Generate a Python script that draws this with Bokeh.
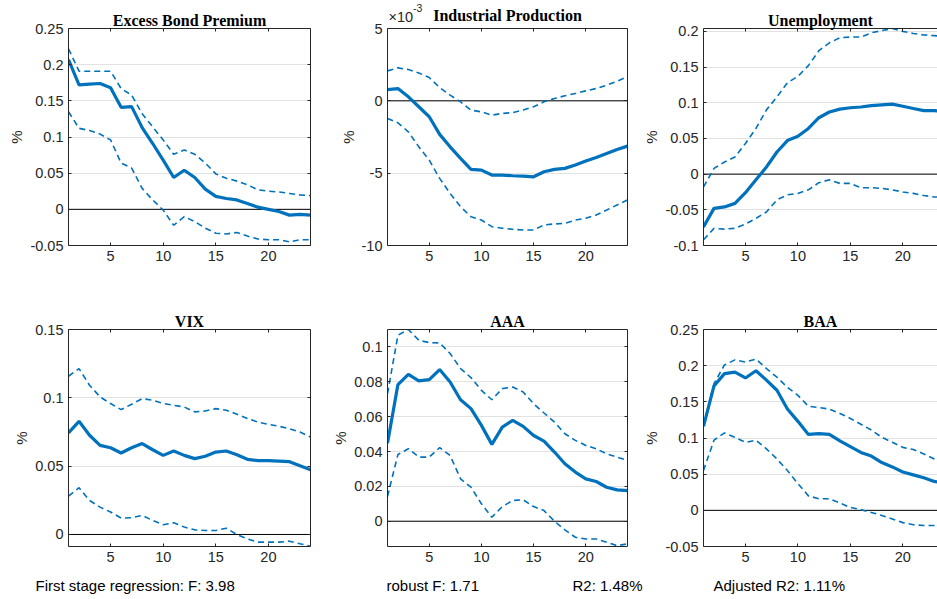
import numpy as np
from bokeh.plotting import figure
from bokeh.layouts import column, row
from bokeh.models import (Span, Label, LinearAxis, FixedTicker,
                          CustomJSTickFormatter, Range1d)
from bokeh.embed import file_html
from bokeh.resources import INLINE

# ---------------- data ----------------
horizon = list(range(1, 25))

ebp_irf = [0.207, 0.172, 0.173, 0.174, 0.168, 0.141, 0.142, 0.113, 0.091, 0.068, 0.044, 0.054,
           0.044, 0.028, 0.018, 0.015, 0.013, 0.008, 0.003, 0.000, -0.003, -0.008, -0.007, -0.008]
ebp_up = [0.222, 0.191, 0.191, 0.191, 0.191, 0.167, 0.158, 0.132, 0.114, 0.096, 0.076, 0.082,
          0.076, 0.064, 0.049, 0.043, 0.039, 0.034, 0.027, 0.025, 0.024, 0.022, 0.020, 0.019]
ebp_lo = [0.135, 0.112, 0.109, 0.104, 0.096, 0.064, 0.057, 0.029, 0.013, -0.001, -0.022, -0.010,
          -0.017, -0.026, -0.033, -0.034, -0.032, -0.037, -0.041, -0.042, -0.042, -0.045, -0.042, -0.042]

# industrial production, in units of 1e-3
ip_irf_e3 = [0.78, 0.85, 0.28, -0.41, -1.10, -2.32, -3.18, -3.98, -4.74, -4.79, -5.13, -5.13,
             -5.18, -5.20, -5.25, -4.90, -4.74, -4.67, -4.44, -4.16, -3.91, -3.64, -3.36, -3.13]
ip_up_e3 = [2.07, 2.28, 2.16, 1.93, 1.61, 0.92, 0.39, -0.07, -0.64, -0.76, -0.99, -0.87,
            -0.81, -0.64, -0.41, -0.07, 0.16, 0.35, 0.51, 0.69, 0.85, 1.08, 1.36, 1.66]
ip_lo_e3 = [-1.22, -1.52, -2.14, -3.18, -4.10, -5.36, -6.40, -7.32, -8.01, -8.24, -8.70, -8.81,
            -8.88, -8.93, -8.93, -8.58, -8.51, -8.47, -8.24, -8.12, -7.89, -7.55, -7.20, -6.86]

un_irf = [-0.074, -0.048, -0.046, -0.041, -0.026, -0.008, 0.010, 0.031, 0.047, 0.053, 0.064, 0.079,
          0.087, 0.091, 0.093, 0.094, 0.096, 0.097, 0.098, 0.095, 0.092, 0.089, 0.089, 0.087]
un_up = [-0.018, 0.008, 0.017, 0.024, 0.043, 0.064, 0.090, 0.108, 0.128, 0.137, 0.152, 0.173,
         0.184, 0.191, 0.192, 0.192, 0.198, 0.201, 0.204, 0.200, 0.197, 0.195, 0.194, 0.193]
un_lo = [-0.092, -0.076, -0.077, -0.076, -0.070, -0.062, -0.053, -0.036, -0.029, -0.027, -0.022, -0.012,
         -0.008, -0.013, -0.013, -0.019, -0.019, -0.020, -0.022, -0.025, -0.027, -0.030, -0.032, -0.032]

vix_irf = [0.0743, 0.0828, 0.0726, 0.0652, 0.0635, 0.0596, 0.0635, 0.0665, 0.0620, 0.0579, 0.0611, 0.0579,
           0.0555, 0.0572, 0.0603, 0.0611, 0.0584, 0.0550, 0.0540, 0.0540, 0.0537, 0.0533, 0.0503, 0.0474]
vix_up = [0.1158, 0.1214, 0.1092, 0.1007, 0.0958, 0.0914, 0.0953, 0.0994, 0.0982, 0.0958, 0.0945, 0.0933,
          0.0897, 0.0904, 0.0921, 0.0909, 0.0880, 0.0848, 0.0823, 0.0806, 0.0792, 0.0774, 0.0750, 0.0713]
vix_lo = [0.0281, 0.0342, 0.0249, 0.0200, 0.0164, 0.0120, 0.0122, 0.0139, 0.0103, 0.0071, 0.0086, 0.0054,
          0.0034, 0.0029, 0.0029, 0.0046, 0.0000, -0.0032, -0.0056, -0.0056, -0.0056, -0.0049, -0.0068, -0.0086]

aaa_irf = [0.0448, 0.0784, 0.0843, 0.0805, 0.0812, 0.0870, 0.0799, 0.0697, 0.0646, 0.0550, 0.0441, 0.0540,
           0.0579, 0.0544, 0.0492, 0.0460, 0.0397, 0.0330, 0.0282, 0.0243, 0.0228, 0.0195, 0.0180, 0.0176]
aaa_up = [0.0732, 0.1067, 0.1100, 0.1038, 0.1025, 0.1023, 0.0962, 0.0876, 0.0824, 0.0751, 0.0697, 0.0761,
          0.0770, 0.0741, 0.0674, 0.0621, 0.0569, 0.0502, 0.0464, 0.0435, 0.0416, 0.0387, 0.0368, 0.0349]
aaa_lo = [0.0142, 0.0383, 0.0416, 0.0368, 0.0368, 0.0422, 0.0377, 0.0243, 0.0195, 0.0100, 0.0023, 0.0084,
          0.0119, 0.0123, 0.0084, 0.0061, 0.0000, -0.0050, -0.0092, -0.0102, -0.0102, -0.0121, -0.0140, -0.0130]

baa_irf = [0.116, 0.172, 0.189, 0.191, 0.183, 0.193, 0.180, 0.166, 0.140, 0.123, 0.105, 0.106,
           0.105, 0.096, 0.088, 0.080, 0.075, 0.066, 0.060, 0.053, 0.049, 0.045, 0.040, 0.037]
baa_up = [0.118, 0.175, 0.201, 0.208, 0.205, 0.209, 0.196, 0.184, 0.170, 0.159, 0.144, 0.142,
          0.140, 0.134, 0.127, 0.119, 0.111, 0.101, 0.094, 0.087, 0.084, 0.078, 0.071, 0.064]
baa_lo = [0.055, 0.097, 0.107, 0.101, 0.094, 0.097, 0.085, 0.071, 0.055, 0.037, 0.020, 0.016,
          0.016, 0.010, 0.004, 0.001, -0.003, -0.007, -0.012, -0.017, -0.020, -0.021, -0.021, -0.021]

titles = ["Excess Bond Premium", "Industrial Production", "Unemployment", "VIX", "AAA", "BAA"]
x_ticks = [5, 10, 15, 20]
y_ticks = [
    [-0.05, 0, 0.05, 0.1, 0.15, 0.2, 0.25],
    [-10, -5, 0, 5],
    [-0.1, -0.05, 0, 0.05, 0.1, 0.15, 0.2],
    [0, 0.05, 0.1, 0.15],
    [0, 0.02, 0.04, 0.06, 0.08, 0.1],
    [-0.05, 0, 0.05, 0.1, 0.15, 0.2, 0.25],
]
y_ranges = [(-0.05, 0.25), (-10, 5), (-0.1, 0.204), (-0.0088, 0.15), (-0.0145, 0.110), (-0.05, 0.25)]
ip_exponent = ("×10", "-3")
stats_text = ["First stage regression: F: 3.98", "robust F: 1.71", "R2: 1.48%", "Adjusted R2: 1.11%"]

series = [(ebp_irf, ebp_up, ebp_lo), (ip_irf_e3, ip_up_e3, ip_lo_e3), (un_irf, un_up, un_lo),
          (vix_irf, vix_up, vix_lo), (aaa_irf, aaa_up, aaa_lo), (baa_irf, baa_up, baa_lo)]

# ---------------- style / geometry ----------------
BLUE = "#0072BD"
AX = "#262626"
GRID = "#e2e2e2"
SANS = "Liberation Sans"
SERIF = "Liberation Serif"
W = 937
IP_STRIP = 22       # strip above the industrial production panel (title + exponent)
BOTTOM_STRIP = 27
TEXT_SHIFT = 5      # label baseline correction observed in the renderer

# per column: border_left, frame_width, border_right, x_end
cols = [(68, 242, 8, 24), (69, 240, 8, 24), (68, 234, 0, 1 + 234 / 10.49)]
# per row: border_top, frame_height, border_bottom
rows_geo = [(28, 217, 55), (29, 217, 26)]

col_x0 = [0, cols[0][0] + cols[0][1] + cols[0][2],
          cols[0][0] + cols[0][1] + cols[0][2] + cols[1][0] + cols[1][1] + cols[1][2]]
col_w = [sum(cols[i][:3]) for i in range(3)]
frame_left = [col_x0[i] + cols[i][0] for i in range(3)]
px_per_unit = [cols[i][1] / (cols[i][3] - 1) for i in range(3)]
frame_center = [frame_left[i] + 23 * px_per_unit[i] / 2 for i in range(3)]

fmt = CustomJSTickFormatter(code="return String(Math.round(tick*1e6)/1e6);")


def blank_axis(ticker):
    ax = LinearAxis(ticker=ticker, formatter=CustomJSTickFormatter(code="return '';"))
    ax.axis_line_color = AX
    ax.major_tick_line_color = AX
    ax.major_tick_in = 3
    ax.major_tick_out = 0
    ax.minor_tick_line_color = None
    ax.major_label_standoff = 0
    ax.major_label_text_font_size = "1px"
    return ax


def make_panel(k):
    r, c = divmod(k, 3)
    bl, fw, br, xend = cols[c]
    bt, fh, bb = rows_geo[r]
    if k == 1:
        bt = bt - IP_STRIP
    ylo, yhi = y_ranges[k]
    p = figure(width=bl + fw + br, height=bt + fh + bb,
               x_range=Range1d(1, xend), y_range=Range1d(ylo, yhi),
               min_border_left=bl, min_border_right=br,
               min_border_top=bt, min_border_bottom=bb,
               output_backend="svg", toolbar_location=None,
               background_fill_color="white", border_fill_color="white")
    p.outline_line_color = None
    xt = FixedTicker(ticks=x_ticks)
    yt = FixedTicker(ticks=y_ticks[k])
    p.xaxis.ticker = xt
    p.yaxis.ticker = yt
    p.yaxis.formatter = fmt
    for ax in (p.xaxis[0], p.yaxis[0]):
        ax.axis_line_color = AX
        ax.major_tick_line_color = AX
        ax.major_tick_in = 3
        ax.major_tick_out = 0
        ax.minor_tick_line_color = None
        ax.major_label_text_font = SANS
        ax.major_label_text_font_size = "14.5px"
        ax.major_label_text_color = AX
        ax.major_label_standoff = 5
    p.yaxis.axis_label = "%"
    p.yaxis.axis_label_text_font = SANS
    p.yaxis.axis_label_text_font_style = "normal"
    p.yaxis.axis_label_text_font_size = "15px"
    p.yaxis.axis_label_text_color = AX
    p.yaxis.axis_label_standoff = 2

    p.add_layout(blank_axis(xt), "above")
    if c < 2:
        p.add_layout(blank_axis(yt), "right")

    p.xgrid.visible = False
    p.ygrid.grid_line_color = GRID
    p.ygrid.grid_line_width = 1

    if k != 1:
        p.title.text = titles[k]
        p.title.align = "center"
        p.title.text_font = SERIF
        p.title.text_font_style = "bold"
        p.title.text_font_size = "16px"
        p.title.text_color = "black"
        p.title.standoff = 0
    else:
        p.title.visible = False

    p.add_layout(Span(location=0, dimension="width", line_color="black",
                      line_width=1, level="underlay"))

    irf, up, lo = series[k]
    p.line(horizon, up, line_color=BLUE, line_width=1.6, line_dash="6 4")
    p.line(horizon, lo, line_color=BLUE, line_width=1.6, line_dash="6 4")
    p.line(horizon, irf, line_color=BLUE, line_width=3.2)
    return p


def strip(x0, width, y_top, height, border_left=0, border_right=0):
    # text strip whose frame coordinates are page pixels (y grows downward)
    frame_w = width - border_left - border_right
    s = figure(width=width, height=height,
               x_range=Range1d(x0 + border_left, x0 + border_left + frame_w),
               y_range=Range1d(y_top + height, y_top),
               min_border=0, min_border_left=border_left, min_border_right=border_right,
               min_border_top=0, min_border_bottom=0,
               output_backend="svg", toolbar_location=None,
               background_fill_color="white", border_fill_color="white")
    s.title.visible = False
    s.axis.visible = False
    s.grid.visible = False
    s.outline_line_color = None
    return s


panels = [make_panel(k) for k in range(6)]

# ---- strip above the industrial production panel: its title and the axis exponent
ip_top = strip(col_x0[1], col_w[1], 0, IP_STRIP, border_left=cols[1][0], border_right=cols[1][2])
ip_top.add_layout(Label(x=frame_center[1], y=20.2 - TEXT_SHIFT, text=titles[1], text_font=SERIF,
                        text_font_style="bold", text_font_size="16px", text_color="black",
                        text_align="center", text_baseline="alphabetic"))
ip_top.add_layout(Label(x=frame_left[1] + 1, y=21.5 - TEXT_SHIFT, text=ip_exponent[0], text_font=SANS,
                        text_font_size="14.5px", text_color=AX,
                        text_align="left", text_baseline="alphabetic"))
ip_top.add_layout(Label(x=frame_left[1] + 25.5, y=12.5 - TEXT_SHIFT, text=ip_exponent[1], text_font=SANS,
                        text_font_size="10.5px", text_color=AX,
                        text_align="left", text_baseline="alphabetic"))

# ---- bottom strip: regression statistics
bottom = strip(0, W, 599 - BOTTOM_STRIP, BOTTOM_STRIP)
stat_x = [frame_left[0] - 33, frame_left[1] - 1, frame_left[1] + 185, frame_left[2] + 10]
for xs, txt in zip(stat_x, stats_text):
    bottom.add_layout(Label(x=xs, y=589 - 4, text=txt, text_font=SANS, text_font_size="15px",
                            text_color="black", text_align="left", text_baseline="alphabetic"))

layout = column(row(panels[0], column(ip_top, panels[1], spacing=0), panels[2], spacing=0),
                row(*panels[3:], spacing=0),
                bottom, spacing=0)

html = file_html(layout, INLINE, title="IRF panels")
html = html.replace("<body>", '<body style="margin:0;padding:0;">')
open("out.html", "w").write(html)
